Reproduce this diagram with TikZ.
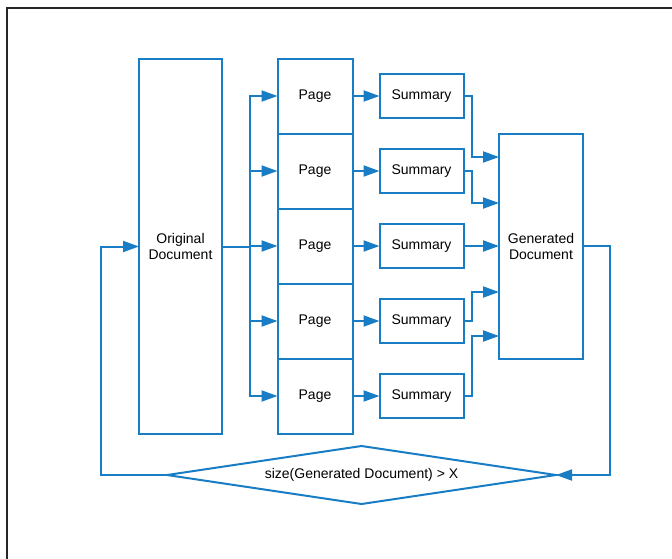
\documentclass[tikz,border=0pt]{standalone}
\usepackage{fontspec}
\setmainfont{Liberation Sans}
\usepackage{xcolor}
\usepackage{tikz}
\usetikzlibrary{positioning, shapes.geometric, arrows.meta}
\definecolor{flowblue}{RGB}{24,125,196}

\begin{document}
\begin{tikzpicture}[x=1pt, y=-1pt, font=\fontsize{14}{16}\selectfont,
	box/.style={rectangle, draw=flowblue, line width=2pt, inner sep=0, outer sep=0, align=center},
	flow/.style={draw=flowblue, line width=2pt, -{Triangle[length=16pt, width=11pt]}}]
	\useasboundingbox (0,0) rectangle (672,558);
	\begin{scope}
		\clip (0,0) rectangle (672,558);
		\draw[line width=2.2pt, black!85] (7,8) rectangle (700,600);
	\end{scope}
	\node[box, minimum width=83pt, minimum height=375pt] at (180.5,246.5) (orig) {Original\\Document};
	\node[box, minimum width=75pt, minimum height=75pt] at (315,96) (page1) {Page};
	\foreach \n/\p in {2/1,3/2,4/3,5/4} {
		\node[box, minimum width=75pt, minimum height=75pt, below=0pt of page\p] (page\n) {Page};
	};
	\foreach \n in {1,...,5} {
		\node[box, minimum width=84pt, minimum height=44pt, right=27pt of page\n] (sum\n) {Summary};
	};
	\node[box, minimum width=84pt, minimum height=225pt] at (541,246) (gen) {Generated\\Document};
	\node[diamond, draw=flowblue, line width=2pt, inner sep=0, outer sep=0, aspect=6.7,
		minimum width=389pt, minimum height=58pt] at (361.5,475) (cond) {size(Generated Document) > X};
	\foreach \n/\dy in {1/89,2/43,3/0,4/-46,5/-90} {
		\draw[flow] (orig.east) -- ++(28,0) |- (page\n.west);
		\draw[flow] (page\n.east) -- (sum\n.west);
		\draw[flow] (sum\n.east) -- ++(8.5,0) |- ([yshift=\dy pt]gen.west);
	};
	\draw[flow] (gen.east) -- ++(27,0) |- (cond.east);
	\draw[flow] (cond.west) -- ++(-66,0) |- (orig.west);
\end{tikzpicture}
\end{document}
